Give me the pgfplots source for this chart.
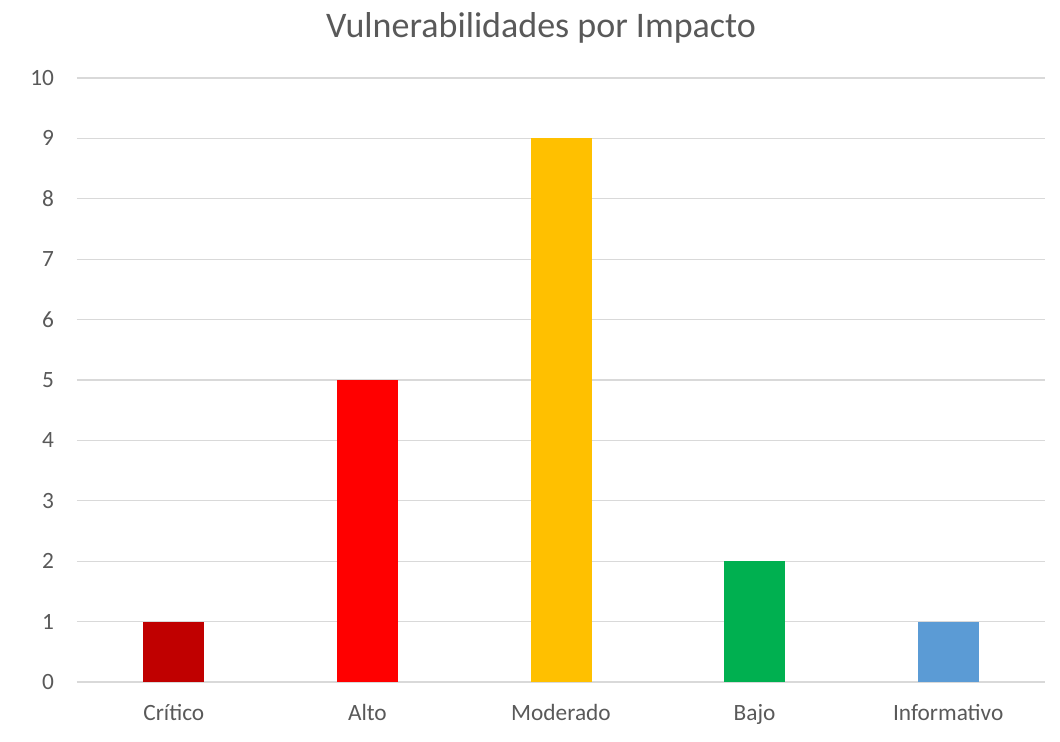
\documentclass[border=0pt]{standalone}
\usepackage{fontspec}
\setmainfont{Carlito}
\usepackage{pgfplots}
\pgfplotsset{compat=1.18}
\definecolor{txt}{HTML}{595959}
\definecolor{gridc}{HTML}{D9D9D9}
\definecolor{cCrit}{HTML}{C00000}
\definecolor{cAlto}{HTML}{FF0000}
\definecolor{cMod}{HTML}{FFC000}
\definecolor{cBajo}{HTML}{00B050}
\definecolor{cInfo}{HTML}{5B9BD5}
\begin{document}
\begin{tikzpicture}[x=0.75pt,y=0.75pt]
\useasboundingbox (-77,-60) rectangle (983,682);
\begin{axis}[
  at={(0,0)}, anchor=south west,
  scale only axis, width=726pt, height=453pt,
  xmin=-0.5, xmax=4.5, ymin=0, ymax=10,
  ytick={0,1,...,10},
  xtick={0,1,2,3,4},
  xticklabels={Crítico,Alto,Moderado,Bajo,Informativo},
  /pgf/number format/assume math mode=true,
  axis line style={draw=none},
  major tick length=0pt,
  ymajorgrids, grid style={gridc, line width=0.9pt},
  ybar, bar width=45.75pt,
  tick label style={font=\fontsize{17.5}{20}\selectfont, text=txt},
  yticklabel style={xshift=-13.75pt},
  xticklabel style={yshift=-13pt},
]
\addplot[ybar, bar shift=0pt, fill=cCrit, draw=none] coordinates {(0,1)};
\addplot[ybar, bar shift=0pt, fill=cAlto, draw=none] coordinates {(1,5)};
\addplot[ybar, bar shift=0pt, fill=cMod, draw=none] coordinates {(2,9)};
\addplot[ybar, bar shift=0pt, fill=cBajo, draw=none] coordinates {(3,2)};
\addplot[ybar, bar shift=0pt, fill=cInfo, draw=none] coordinates {(4,1)};
\end{axis}
\node[text=txt, font=\fontsize{27}{32}\selectfont] at (464,654) {Vulnerabilidades por Impacto};
\end{tikzpicture}
\end{document}
